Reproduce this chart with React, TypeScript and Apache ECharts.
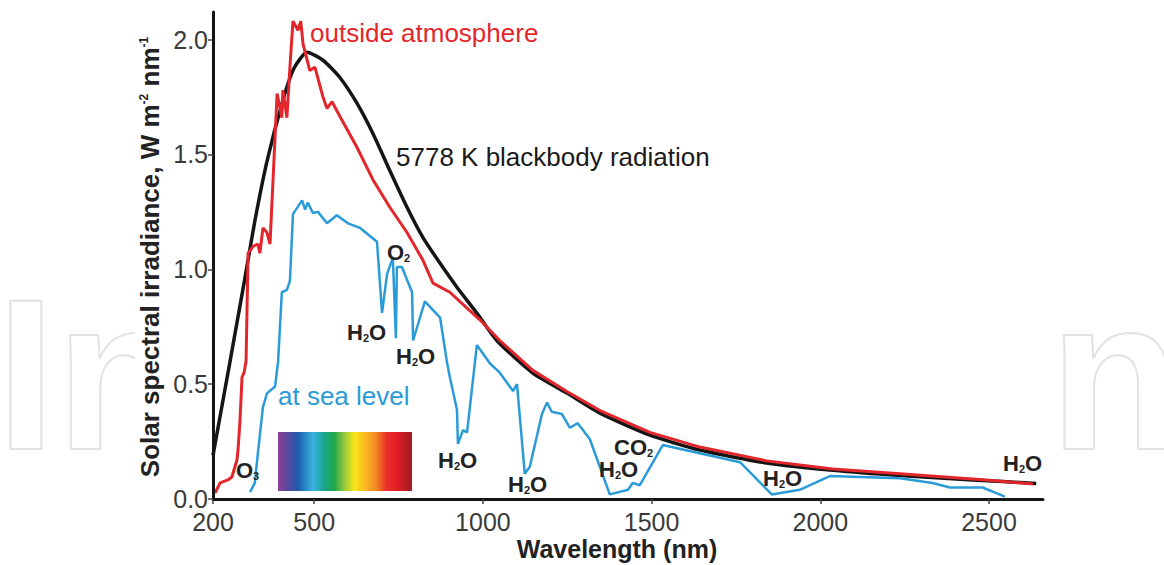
import React, { useEffect, useRef } from "react";
import * as echarts from "echarts";

// Tick values
const X_TICKS = [200, 500, 1000, 1500, 2000, 2500];
const Y_TICKS = [0, 0.5, 1.0, 1.5, 2.0];

// 5778 K blackbody radiation
const blackWl = [200, 250, 295, 324, 360, 407, 440, 479, 526, 576, 627, 674, 724, 775, 822, 873, 923, 982, 1041, 1148, 1249, 1347, 1495, 1643, 1841, 2037, 2236, 2450, 2640];
const blackVal = [0.19, 0.595, 0.965, 1.21, 1.47, 1.735, 1.875, 1.945, 1.91, 1.835, 1.722, 1.591, 1.43, 1.27, 1.139, 1.026, 0.922, 0.809, 0.69, 0.548, 0.461, 0.374, 0.278, 0.213, 0.157, 0.125, 0.102, 0.083, 0.068];

// Outside atmosphere
const redWl = [206, 221, 244, 256, 271, 274, 280, 286, 292, 298, 304, 319, 333, 339, 348, 360, 369, 390, 404, 407, 419, 428, 437, 452, 460, 467, 487, 502, 526, 538, 553, 567, 627, 674, 695, 724, 775, 822, 852, 902, 961, 991, 1050, 1148, 1249, 1347, 1495, 1643, 1841, 2037, 2236, 2482, 2630];
const redVal = [0.026, 0.07, 0.083, 0.096, 0.17, 0.21, 0.34, 0.53, 0.55, 0.6, 1.07, 1.1, 1.11, 1.07, 1.18, 1.16, 1.11, 1.765, 1.66, 1.78, 1.66, 1.88, 2.08, 2.04, 2.08, 1.98, 1.865, 1.88, 1.75, 1.7, 1.73, 1.69, 1.53, 1.39, 1.34, 1.27, 1.16, 1.04, 0.94, 0.9, 0.82, 0.78, 0.69, 0.56, 0.468, 0.385, 0.29, 0.226, 0.166, 0.131, 0.11, 0.084, 0.065];

// At sea level
const blueWl = [310, 324, 333, 348, 360, 384, 393, 404, 419, 428, 437, 464, 473, 481, 496, 511, 538, 567, 600, 636, 686, 701, 716, 733, 742, 745, 760, 790, 793, 828, 873, 893, 902, 923, 926, 941, 953, 982, 1021, 1050, 1089, 1101, 1124, 1139, 1175, 1190, 1204, 1234, 1258, 1281, 1317, 1376, 1430, 1444, 1465, 1533, 1762, 1856, 1939, 2028, 2236, 2333, 2384, 2481, 2547];
const blueVal = [0.03, 0.07, 0.2, 0.4, 0.46, 0.49, 0.6, 0.9, 0.91, 0.95, 1.24, 1.3, 1.26, 1.29, 1.245, 1.25, 1.2, 1.235, 1.2, 1.18, 1.12, 0.81, 0.98, 1.05, 0.7, 1.01, 1.01, 0.9, 0.69, 0.86, 0.79, 0.6, 0.53, 0.39, 0.24, 0.3, 0.29, 0.67, 0.59, 0.55, 0.47, 0.5, 0.11, 0.14, 0.37, 0.42, 0.38, 0.37, 0.31, 0.33, 0.26, 0.02, 0.04, 0.07, 0.06, 0.235, 0.16, 0.02, 0.04, 0.1, 0.09, 0.07, 0.05, 0.05, 0.01];

const zip = (xs: number[], ys: number[]) => xs.map((x, i) => [x, ys[i]]);

const RED = "#e3262b";
const BLUE = "#2b9bd8";
const BLACK = "#151515";
const FONT = "Liberation Sans, Arial, sans-serif";

// chemical label: main letters, subscript digit, trailing letters
const mol = (x: number, y: number, main: string, sub: string, tail: string) => {
  const mainW = main === "CO" ? 33 : main === "O" ? 17 : 16;
  const els: any[] = [
    {
      type: "text",
      x,
      y,
      z: 10,
      style: { text: main, fontSize: 22, fontWeight: "bold", fontFamily: FONT, fill: "#222", textVerticalAlign: "middle" },
    },
    {
      type: "text",
      x: x + mainW,
      y: y + 6,
      z: 10,
      style: { text: sub, fontSize: 11, fontWeight: "bold", fontFamily: FONT, fill: "#222", textVerticalAlign: "middle" },
    },
  ];
  if (tail) {
    els.push({
      type: "text",
      x: x + mainW + 6,
      y,
      z: 10,
      style: { text: tail, fontSize: 22, fontWeight: "bold", fontFamily: FONT, fill: "#222", textVerticalAlign: "middle" },
    });
  }
  return els;
};

export default function App() {
  const ref = useRef<HTMLDivElement>(null);
  useEffect(() => {
    document.body.style.margin = "0";
    if (!ref.current) return;
    const chart = echarts.init(ref.current, undefined, { renderer: "svg" });
    const option: any = {
      animation: false,
      backgroundColor: "#ffffff",
      grid: { left: 213, right: 121, top: 12, bottom: 66, containLabel: false },
      xAxis: {
        type: "value",
        min: 200,
        max: 2660,
        z: 5,
        splitLine: { show: false },
        axisLine: { show: true, lineStyle: { color: BLACK, width: 3 } },
        axisTick: { show: true, customValues: X_TICKS, length: 5, lineStyle: { color: "#444", width: 1.5 } },
        axisLabel: {
          customValues: X_TICKS,
          fontSize: 25,
          color: "#3a3a3a",
          fontFamily: FONT,
          margin: 10,
          formatter: (v: number) => String(v),
        },
      },
      yAxis: {
        type: "value",
        min: 0,
        max: 2.12,
        z: 5,
        splitLine: { show: false },
        axisLine: { show: true, lineStyle: { color: BLACK, width: 3 } },
        axisTick: { show: true, customValues: Y_TICKS, length: 5, lineStyle: { color: "#444", width: 1.5 } },
        axisLabel: {
          customValues: Y_TICKS,
          fontSize: 25,
          color: "#3a3a3a",
          fontFamily: FONT,
          margin: 5,
          formatter: (v: number) => v.toFixed(1),
        },
      },
      series: [
        {
          type: "line",
          name: "blackbody",
          data: zip(blackWl, blackVal),
          showSymbol: false,
          symbol: "none",
          smooth: 0.2,
          lineStyle: { color: BLACK, width: 3.5 },
          z: 3,
        },
        {
          type: "line",
          name: "outside",
          data: zip(redWl, redVal),
          showSymbol: false,
          symbol: "none",
          lineStyle: { color: RED, width: 3 },
          z: 4,
        },
        {
          type: "line",
          name: "sea",
          data: zip(blueWl, blueVal),
          showSymbol: false,
          symbol: "none",
          lineStyle: { color: BLUE, width: 2.5 },
          z: 4,
        },
      ],
      graphic: [
        // faint watermark
        {
          type: "text",
          x: -4,
          y: 482,
          z: 0,
          style: {
            text: "In",
            fontSize: 215,
            fontWeight: "bold",
            fontFamily: FONT,
            fill: "rgba(0,0,0,0)",
            stroke: "#e3e3e3",
            lineWidth: 2,
            textVerticalAlign: "bottom",
          },
        },
        {
          type: "text",
          x: 930,
          y: 482,
          z: 0,
          style: {
            text: "en",
            fontSize: 215,
            fontWeight: "bold",
            fontFamily: FONT,
            fill: "rgba(0,0,0,0)",
            stroke: "#e3e3e3",
            lineWidth: 2,
            textVerticalAlign: "bottom",
          },
        },
        {
          type: "rect",
          z: 1,
          shape: { x: 135, y: 0, width: 909, height: 565 },
          style: { fill: "#ffffff" },
        },
        // visible spectrum bar
        {
          type: "rect",
          z: 6,
          shape: { x: 278, y: 432, width: 134, height: 59 },
          style: {
            fill: new echarts.graphic.LinearGradient(0, 0, 1, 0, [
              { offset: 0, color: "#8e3f98" },
              { offset: 0.08, color: "#55499f" },
              { offset: 0.15, color: "#1b5dab" },
              { offset: 0.26, color: "#3cb2e3" },
              { offset: 0.34, color: "#1aa68f" },
              { offset: 0.42, color: "#20a64a" },
              { offset: 0.5, color: "#9cca3c" },
              { offset: 0.57, color: "#f7e617" },
              { offset: 0.65, color: "#fbb823" },
              { offset: 0.73, color: "#f38a22" },
              { offset: 0.81, color: "#e6302a" },
              { offset: 0.89, color: "#e21d25" },
              { offset: 1, color: "#9f1c22" },
            ]),
          },
        },
        // y axis title
        {
          type: "text",
          x: 150,
          y: 257,
          rotation: Math.PI / 2,
          z: 10,
          style: {
            text: "{a|Solar spectral irradiance, W m}{s|-2}{a| nm}{s|-1}",
            textAlign: "center",
            textVerticalAlign: "middle",
            rich: {
              a: { fontSize: 26, fontWeight: "bold", fontFamily: FONT, fill: "#222" },
              s: { fontSize: 12, fontWeight: "bold", fontFamily: FONT, fill: "#222", padding: [0, 0, 12, 0] },
            },
          },
        },
        // x axis title
        {
          type: "text",
          x: 617,
          y: 549,
          z: 10,
          style: {
            text: "Wavelength (nm)",
            fontSize: 25,
            fontWeight: "bold",
            fontFamily: FONT,
            fill: "#222",
            textAlign: "center",
            textVerticalAlign: "middle",
          },
        },
        // series annotations
        {
          type: "text",
          x: 310,
          y: 33,
          z: 10,
          style: { text: "outside atmosphere", fontSize: 26, fontFamily: FONT, fill: RED, textVerticalAlign: "middle" },
        },
        {
          type: "text",
          x: 396,
          y: 157,
          z: 10,
          style: { text: "5778 K blackbody radiation", fontSize: 26, fontFamily: FONT, fill: "#1a1a1a", textVerticalAlign: "middle" },
        },
        {
          type: "text",
          x: 278,
          y: 396,
          z: 10,
          style: { text: "at sea level", fontSize: 26, fontFamily: FONT, fill: BLUE, textVerticalAlign: "middle" },
        },
        ...mol(236, 470, "O", "3", ""),
        ...mol(387, 252, "O", "2", ""),
        ...mol(347, 332, "H", "2", "O"),
        ...mol(396, 356, "H", "2", "O"),
        ...mol(438, 460, "H", "2", "O"),
        ...mol(508, 484, "H", "2", "O"),
        ...mol(599, 469, "H", "2", "O"),
        ...mol(614, 447, "CO", "2", ""),
        ...mol(763, 478, "H", "2", "O"),
        ...mol(1003, 463, "H", "2", "O"),
      ],
    };
    chart.setOption(option);
    return () => chart.dispose();
  }, []);
  return <div ref={ref} style={{ width: 1164, height: 565, position: "absolute", left: 0, top: 0 }} />;
}
